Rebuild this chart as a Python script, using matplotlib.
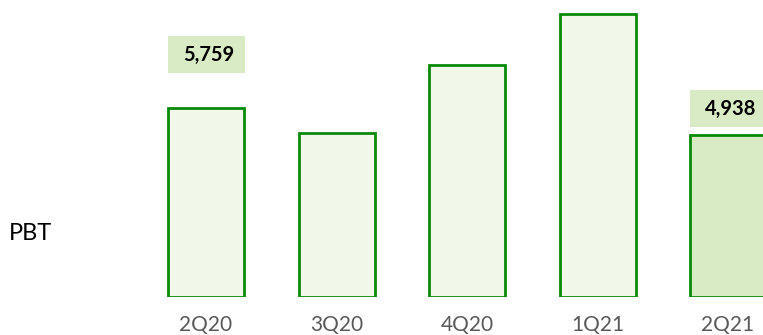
import matplotlib
matplotlib.use("Agg")
import matplotlib.pyplot as plt

categories = ["2Q20", "3Q20", "4Q20", "1Q21", "2Q21"]
values = [5759, 4996, 7061, 8617, 4938]
labels = ["5,759", None, None, None, "4,938"]
label_offsets = [1058, None, None, None, 232]   # gap between bar top and label box
row_title = "PBT"

fill_light = "#F1F7E9"
fill_dark = "#D9EBC4"
edge = "#0A8A0A"
box_col = "#D8EBC5"

plt.rcParams['font.family'] = ['Lato', 'DejaVu Sans']

W, H = 763, 335
fig = plt.figure(figsize=(W / 100, H / 100), dpi=100)
base_px = 296.5
ax = fig.add_axes([0, (H - base_px) / H, 1, base_px / H])
per_px = 30.5
ax.set_ylim(0, base_px * per_px)
spacing = 130.5
first_center = 206
ax.set_xlim(-first_center / spacing, (W - first_center) / spacing)

x = list(range(len(categories)))
bw = 76 / spacing
colors = [fill_light] * 4 + [fill_dark]
ax.bar(x, values, width=bw, color=colors, edgecolor=edge, linewidth=2)

box_h = 37 * per_px
for i, (lab, off) in enumerate(zip(labels, label_offsets)):
    if lab is None:
        continue
    b = values[i] + off
    ax.bar([i], [box_h], bottom=[b], width=bw + 1 / spacing, color=box_col, linewidth=0)
    ax.text(i + 2.5 / spacing, b + box_h / 2, lab, ha='center', va='center',
            fontsize=14.5, fontweight='bold', color='black')

ax.set_xticks(x)
ax.set_xticklabels(categories, fontsize=15, color='#595959')
ax.tick_params(axis='x', length=0, pad=13)
ax.set_yticks([])
for s in ax.spines.values():
    s.set_visible(False)

fig.text(31 / W, 1 - 233 / H, row_title, ha='center', va='center', fontsize=17, color='black')

fig.savefig("out.png", dpi=100)
